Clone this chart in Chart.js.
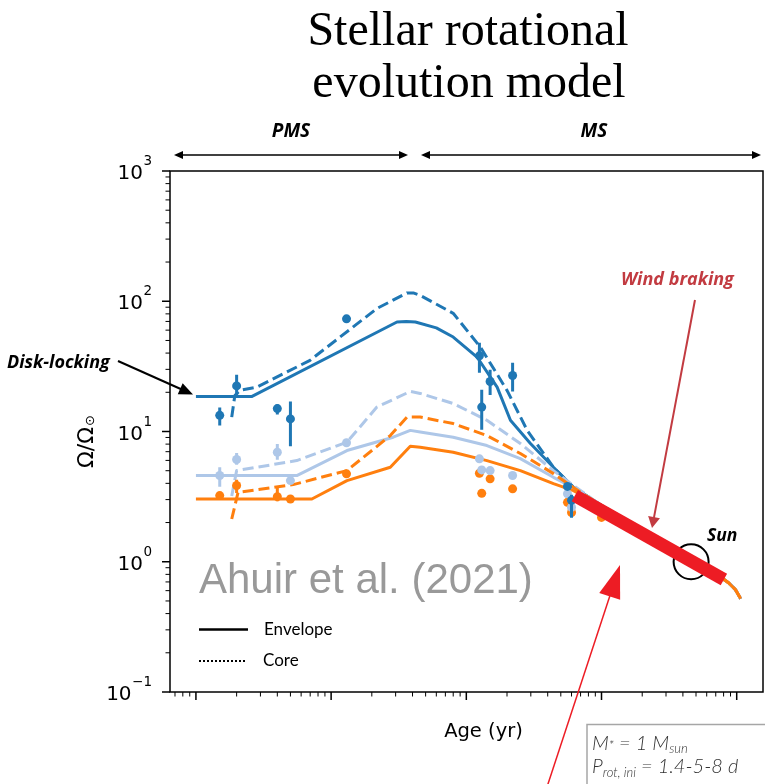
<!DOCTYPE html>
<html><head><meta charset="utf-8">
<script src="https://cdn.jsdelivr.net/npm/chart.js@4.4.0/dist/chart.umd.min.js"></script>
<style>html,body{margin:0;padding:0;background:#fff}#wrap{position:relative;width:765px;height:784px}</style>
</head><body><div id="wrap"><canvas id="c"></canvas></div>
<script>
// ---------------- data (age in yr, Omega in solar units) ----------------
const blueEnvAge   = [1.0e6, 2.6e6, 30.7e6, 36e6, 42e6, 60e6, 80e6, 120e6, 169e6, 212e6, 298e6, 441e6, 620e6, 1.0e9, 1.64e9, 2.74e9, 4.56e9, 7.0e9, 8.7e9, 9.8e9, 10.7e9];
const blueEnvOmega = [18.6, 18.6, 69.3, 70.0, 69.3, 62.5, 53.1, 37.3, 21.9, 12.2, 8.09, 5.31, 3.73, 2.70, 2.0, 1.45, 1.02, 0.81, 0.69, 0.61, 0.52];
const blueCoreAge   = [1.84e6, 1.94e6, 2.12e6, 2.82e6, 6.98e6, 21.8e6, 36.4e6, 40.5e6, 45.6e6, 80e6, 127e6, 200e6, 282e6, 441e6, 620e6, 1.0e9, 1.64e9, 2.74e9, 4.56e9, 7.0e9, 8.7e9, 9.8e9, 10.7e9];
const blueCoreOmega = [12.9, 18.9, 20.7, 21.9, 35.2, 87.9, 115.9, 115.9, 111, 80.8, 44.5, 20.7, 10.2, 5.31, 3.73, 2.70, 2.0, 1.45, 1.02, 0.81, 0.69, 0.61, 0.52];
const lightEnvAge   = [1.0e6, 5.57e6, 13.1e6, 28.8e6, 38.5e6, 45.6e6, 80e6, 142e6, 251e6, 441e6, 620e6, 1.0e9, 1.64e9, 2.74e9, 4.56e9, 7.0e9, 8.7e9, 9.8e9, 10.7e9];
const lightEnvOmega = [4.59, 4.59, 7.14, 9.04, 10.2, 9.9, 9.04, 7.8, 6.19, 4.45, 3.71, 2.70, 2.0, 1.45, 1.02, 0.81, 0.69, 0.61, 0.52];
const lightCoreAge   = [1.84e6, 2.0e6, 5.57e6, 13.1e6, 21.8e6, 38.5e6, 45.6e6, 80e6, 142e6, 251e6, 441e6, 620e6, 1.0e9, 1.64e9, 2.74e9, 4.56e9, 7.0e9, 8.7e9, 9.8e9, 10.7e9];
const lightCoreOmega = [3.2, 5.01, 5.98, 8.28, 15.4, 20.3, 19.6, 16.4, 12.2, 8.09, 5.01, 3.85, 2.70, 2.0, 1.45, 1.02, 0.81, 0.69, 0.61, 0.52];
const orangeEnvAge   = [1.0e6, 7.2e6, 13.1e6, 27.4e6, 38.5e6, 45.6e6, 80e6, 142e6, 251e6, 441e6, 620e6, 1.0e9, 1.64e9, 2.74e9, 4.56e9, 7.0e9, 8.7e9, 9.8e9, 10.7e9];
const orangeEnvOmega = [3.03, 3.03, 4.2, 5.31, 7.7, 7.57, 6.93, 5.98, 5.01, 3.98, 3.52, 2.70, 2.0, 1.45, 1.02, 0.81, 0.69, 0.61, 0.52];
const orangeCoreAge   = [1.84e6, 2.05e6, 5.24e6, 13.1e6, 27.4e6, 36.4e6, 45.6e6, 80e6, 142e6, 251e6, 441e6, 620e6, 1.0e9, 1.64e9, 2.74e9, 4.56e9, 7.0e9, 8.7e9, 9.8e9, 10.7e9];
const orangeCoreOmega = [2.13, 3.41, 3.91, 5.01, 9.31, 12.9, 12.9, 11.5, 9.31, 6.78, 4.75, 3.71, 2.70, 2.0, 1.45, 1.02, 0.81, 0.69, 0.61, 0.52];

// observed clusters
const clusterAge  = [1.5e6, 2.0e6, 4.0e6, 5.0e6, 13e6, 125e6, 130e6, 150e6, 220e6, 560e6, 600e6, 1000e6];
const blueObs     = [13.3, 22.4, 15.0, 12.5, 73.3, 38.1, 15.4, 24.2, 26.9, 3.79, 2.96, null];
const blueObsLo   = [11.1, 18.6, 13.5, 7.69, null, 28.3, 10.3, 19.1, 20.3, null, 2.18, null];
const blueObsHi   = [15.3, 27.3, 16.1, 17.0, null, 48.0, 20.9, 29.8, 33.7, null, 3.27, null];
const lightObs    = [4.59, 6.09, 6.93, 4.2, 8.19, 6.17, 5.07, 5.01, 4.59, 3.33, 2.62, null];
const lightObsLo  = [3.77, 5.56, 6.08, null, null, null, null, null, null, null, null, null];
const lightObsHi  = [5.31, 6.84, 8.02, null, null, null, null, null, 5.37, null, null, null];
const orangeObs   = [3.22, 3.85, 3.16, 3.03, 4.73, 4.78, 3.35, 4.33, 3.63, 2.86, 2.39, 2.19];
const orangeObsLo = [null, 3.37, 2.91, null, null, null, null, null, null, null, null, null];
const orangeObsHi = [null, 4.27, 3.79, null, null, null, null, null, null, null, null, null];

// wind-braking segment and the Sun
const brakeAge   = [635e6, 8.04e9];
const brakeOmega = [3.22, 0.731];
const sunAge   = [4.6e9];
const sunOmega = [1.0];

// axes
const xRange = [6.43e5, 1.565e10];
const yRange = [0.1, 1000];
const xDecades = [1e5, 1e6, 1e7, 1e8, 1e9, 1e10];
const yDecades = [0.1, 1, 10, 100, 1000];
const yTickExponents = ['\u22121', '0', '1', '2', '3'];
const minorMult = [1, 2, 3, 4, 5, 6, 7, 8, 9];

// ---------------- helpers ----------------
const C_BLUE = '#1f77b4', C_LIGHT = '#aec7e8', C_ORANGE = '#ff7f0e';
const pts = (xs, ys) => xs.map((x, i) => ({x: x, y: ys[i]}));
function errPts(xs, lo, hi) {
  const out = [];
  xs.forEach((x, i) => { if (lo[i] != null || hi[i] != null) {
    out.push({x: x, y: lo[i] != null ? lo[i] : hi[i]});
    out.push({x: x, y: hi[i] != null ? hi[i] : lo[i]});
    out.push({x: x, y: null});
  }});
  return out;
}
function obsPts(xs, ys) { return xs.map((x, i) => ({x: x, y: ys[i]})).filter(p => p.y != null); }
function logTicks(decades, r) {
  const t = [];
  decades.forEach(d => minorMult.forEach(m => { const v = d * m; if (v >= r[0] * 0.9999 && v <= r[1] * 1.0001) t.push({value: v}); }));
  return t;
}
const isDecade = v => Math.abs(Math.log10(v) - Math.round(Math.log10(v))) < 1e-6;

function lineDs(xs, ys, color, dashed, order) {
  return {type: 'line', data: pts(xs, ys), borderColor: color, borderWidth: 3, borderDash: dashed ? [11, 5] : [],
          pointRadius: 0, tension: 0, fill: false, order: order, borderJoinStyle: 'round'};
}
function errDs(xs, lo, hi, color, order) {
  return {type: 'line', data: errPts(xs, lo, hi), borderColor: color, borderWidth: 3, pointRadius: 0,
          spanGaps: false, fill: false, order: order};
}
function obsDs(xs, ys, color, order) {
  return {type: 'scatter', data: obsPts(xs, ys), backgroundColor: color, borderWidth: 0,
          pointRadius: 4.5, pointHoverRadius: 4.5, order: order};
}

function arrowHead(ctx, x1, y1, x2, y2, len, hw) {
  const L = Math.hypot(x2 - x1, y2 - y1), ux = (x2 - x1) / L, uy = (y2 - y1) / L;
  const bx = x2 - ux * len, by = y2 - uy * len;
  ctx.beginPath(); ctx.moveTo(x2, y2);
  ctx.lineTo(bx - uy * hw, by + ux * hw); ctx.lineTo(bx + uy * hw, by - ux * hw);
  ctx.closePath(); ctx.fill();
}
function arrow(ctx, x1, y1, x2, y2, len, hw, color, lw, both) {
  ctx.strokeStyle = color; ctx.fillStyle = color; ctx.lineWidth = lw; ctx.setLineDash([]);
  const L = Math.hypot(x2 - x1, y2 - y1), ux = (x2 - x1) / L, uy = (y2 - y1) / L;
  const s = both ? len * 0.7 : 0;
  ctx.beginPath(); ctx.moveTo(x1 + ux * s, y1 + uy * s); ctx.lineTo(x2 - ux * len * 0.7, y2 - uy * len * 0.7); ctx.stroke();
  arrowHead(ctx, x1, y1, x2, y2, len, hw);
  if (both) arrowHead(ctx, x2, y2, x1, y1, len, hw);
}

const decor = {
  id: 'decor',
  afterDraw(chart) {
    const ctx = chart.ctx, a = chart.chartArea, sx = chart.scales.x, sy = chart.scales.y;
    ctx.save();
    // frame
    ctx.strokeStyle = '#000'; ctx.lineWidth = 1.5; ctx.setLineDash([]);
    ctx.strokeRect(a.left, a.top, a.right - a.left, a.bottom - a.top);
    // ticks
    sx.ticks.forEach(t => { const p = sx.getPixelForValue(t.value); const maj = isDecade(t.value);
      ctx.lineWidth = maj ? 1.5 : 1; ctx.beginPath(); ctx.moveTo(p, a.bottom); ctx.lineTo(p, a.bottom + (maj ? 8 : 4.5)); ctx.stroke(); });
    sy.ticks.forEach(t => { const p = sy.getPixelForValue(t.value); const maj = isDecade(t.value);
      ctx.lineWidth = maj ? 1.5 : 1; ctx.beginPath(); ctx.moveTo(a.left, p); ctx.lineTo(a.left - (maj ? 8 : 4.5), p); ctx.stroke(); });

    ctx.fillStyle = '#000'; ctx.textBaseline = 'alphabetic';
    // y tick labels: 10 with raised exponent
    yDecades.forEach((d, i) => {
      const p = sy.getPixelForValue(d);
      ctx.font = '13.5px "DejaVu Sans", sans-serif'; ctx.textAlign = 'right';
      const ew = ctx.measureText(yTickExponents[i]).width;
      ctx.fillText(yTickExponents[i], 152, p - 6);
      ctx.font = '20px "DejaVu Sans", sans-serif';
      ctx.fillText('10', 152 - ew - 0.5, p + 8);
    });
    // title
    ctx.font = '48px "Liberation Serif", "DejaVu Serif", serif'; ctx.textAlign = 'center';
    ctx.fillText('Stellar rotational', 468, 45);
    ctx.fillText('evolution model', 469, 97);
    // PMS / MS
    ctx.font = 'italic bold 19px "Open Sans", sans-serif';
    ctx.fillText('PMS', 291, 137);
    ctx.fillText('MS', 594, 137);
    arrow(ctx, 174, 155, 408, 155, 9, 4, '#000', 1.5, true);
    arrow(ctx, 421, 155, 761, 155, 9, 4, '#000', 1.5, true);
    // axis labels
    ctx.font = '19.5px "DejaVu Sans", sans-serif'; ctx.textAlign = 'center';
    ctx.fillText('Age (yr)', 483.5, 737);
    ctx.save(); ctx.translate(93, 468); ctx.rotate(-Math.PI / 2);
    ctx.textAlign = 'left'; ctx.font = '22px "DejaVu Sans", sans-serif';
    ctx.fillText('\u03A9/\u03A9', 0, 0);
    const w = ctx.measureText('\u03A9/\u03A9').width;
    ctx.font = '13px "DejaVu Sans", sans-serif'; ctx.fillText('\u2299', w + 1, 1);
    ctx.restore();
    // Disk-locking
    ctx.textAlign = 'left'; ctx.font = 'italic bold 18px "Open Sans", sans-serif';
    ctx.fillText('Disk-locking', 7, 368);
    arrow(ctx, 118, 361, 193, 394.5, 14, 6, '#000', 2, false);
    // Wind braking
    ctx.fillStyle = '#c23b41'; ctx.fillText('Wind braking', 621, 285);
    arrow(ctx, 695, 300, 652, 528, 11, 6, '#c23b41', 2, false);
    // Sun label
    ctx.fillStyle = '#000'; ctx.font = 'italic bold 17.5px "Open Sans", sans-serif';
    ctx.fillText('Sun', 707, 541);
    // credit
    ctx.fillStyle = '#999999'; ctx.font = '42px "Liberation Sans", Arial, sans-serif';
    ctx.fillText('Ahuir et al. (2021)', 199, 593);
    // legend
    ctx.fillStyle = '#000'; ctx.strokeStyle = '#000';
    ctx.lineWidth = 2.5; ctx.beginPath(); ctx.moveTo(199, 629.5); ctx.lineTo(248, 629.5); ctx.stroke();
    ctx.lineWidth = 2; ctx.setLineDash([2, 2]); ctx.beginPath(); ctx.moveTo(199, 661); ctx.lineTo(247, 661); ctx.stroke();
    ctx.setLineDash([]);
    ctx.font = '17px Lato, "Open Sans", sans-serif';
    ctx.fillText('Envelope', 264, 635);
    ctx.fillText('Core', 263, 666);
    // red pointer arrow
    arrow(ctx, 546, 790, 620, 565, 33, 11, '#ed1c24', 1.5, false);
    // parameter box
    ctx.strokeStyle = '#a6a6a6'; ctx.lineWidth = 1.5; ctx.strokeRect(587, 724.5, 200, 80);
    ctx.fillStyle = '#333333';
    const big = 'italic 300 20px Lato, "Open Sans", sans-serif', small = 'italic 300 13px Lato, "Open Sans", sans-serif';
    function run(parts, x, y) { parts.forEach(p => { ctx.font = p[1] ? small : big; ctx.fillText(p[0], x, y + (p[2] || 0)); x += ctx.measureText(p[0]).width; }); }
    run([['M', 0], ['*', 1, 0], [' = 1 M', 0], ['sun', 1, 3]], 592, 750);
    run([['P', 0], ['rot, ini', 1, 4], [' = 1.4-5-8 d', 0]], 592, 773);
    ctx.restore();
  }
};

const datasets = [
  {type: 'line', data: pts(brakeAge, brakeOmega), borderColor: '#ed1c24', borderWidth: 13, borderCapStyle: 'butt',
   pointRadius: 0, fill: false, order: 0},
  {type: 'scatter', data: pts(sunAge, sunOmega), backgroundColor: 'rgba(0,0,0,0)', borderColor: '#000', borderWidth: 2,
   pointRadius: 17.5, pointHoverRadius: 17.5, order: 1},
  {type: 'scatter', data: pts(sunAge, sunOmega), backgroundColor: '#000', borderWidth: 0, pointRadius: 2, order: 1},
  obsDs(clusterAge, blueObs, C_BLUE, 2),
  errDs(clusterAge, blueObsLo, blueObsHi, C_BLUE, 2),
  obsDs(clusterAge, lightObs, C_LIGHT, 3),
  errDs(clusterAge, lightObsLo, lightObsHi, C_LIGHT, 3),
  obsDs(clusterAge, orangeObs, C_ORANGE, 4),
  errDs(clusterAge, orangeObsLo, orangeObsHi, C_ORANGE, 4),
  lineDs(orangeEnvAge, orangeEnvOmega, C_ORANGE, false, 10),
  lineDs(orangeCoreAge, orangeCoreOmega, C_ORANGE, true, 10),
  lineDs(lightEnvAge, lightEnvOmega, C_LIGHT, false, 11),
  lineDs(lightCoreAge, lightCoreOmega, C_LIGHT, true, 11),
  lineDs(blueEnvAge, blueEnvOmega, C_BLUE, false, 12),
  lineDs(blueCoreAge, blueCoreOmega, C_BLUE, true, 12)
];

new Chart(document.getElementById('c'), {
  data: {datasets: datasets},
  options: {
    responsive: true, maintainAspectRatio: false, animation: false, devicePixelRatio: 1,
    layout: {autoPadding: false, padding: {top: 171, right: 2, left: 0, bottom: 0}},
    plugins: {legend: {display: false}, tooltip: {enabled: false}, title: {display: false}},
    events: [],
    scales: {
      x: {type: 'logarithmic', min: xRange[0], max: xRange[1],
          afterBuildTicks: s => { s.ticks = logTicks(xDecades, xRange); },
          afterFit: s => { s.height = 92; s.paddingLeft = 0; s.paddingRight = 0; },
          grid: {display: false, drawTicks: false}, border: {display: false},
          ticks: {display: false}},
      y: {type: 'logarithmic', min: yRange[0], max: yRange[1],
          afterBuildTicks: s => { s.ticks = logTicks(yDecades, yRange); },
          afterFit: s => { s.width = 170; s.paddingTop = 0; s.paddingBottom = 0; },
          grid: {display: false, drawTicks: false}, border: {display: false},
          ticks: {display: false}}
    }
  },
  plugins: [decor]
});
</script>
</body></html>
